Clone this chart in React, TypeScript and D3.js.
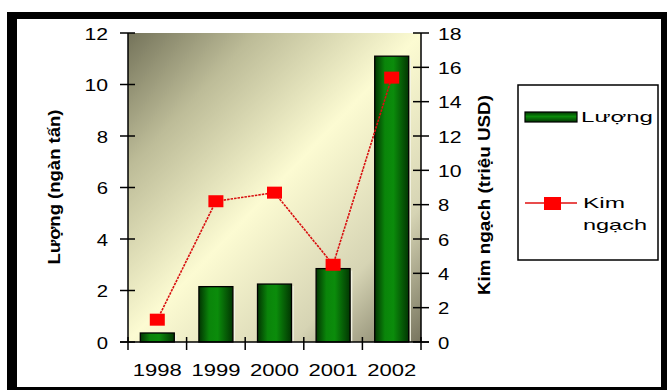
import React from "react";
import * as d3 from "d3";

// Export volume (thousand tonnes) and value (million USD) by year
const years = ["1998", "1999", "2000", "2001", "2002"];
const luong = [0.35, 2.15, 2.25, 2.85, 11.1];
const kimNgach = [1.3, 8.2, 8.7, 4.5, 15.4];
const leftTicks = [0, 2, 4, 6, 8, 10, 12];
const rightTicks = [0, 2, 4, 6, 8, 10, 12, 14, 16, 18];

const W = 667;
const H = 390;
const plot = { left: 128, right: 421, top: 33, bottom: 342 };
const FONT = "'Liberation Sans', Arial, sans-serif";

export default function App() {
  const x = d3
    .scaleBand<string>()
    .domain(years)
    .range([plot.left, plot.right])
    .paddingInner(0.42)
    .paddingOuter(0.21);
  const yL = d3.scaleLinear().domain([0, 12]).range([plot.bottom, plot.top]);
  const yR = d3.scaleLinear().domain([0, 18]).range([plot.bottom, plot.top]);

  const cx = (yr: string) => (x(yr) as number) + x.bandwidth() / 2;
  const line = d3
    .line<number>()
    .x((_, i) => cx(years[i]))
    .y((d) => yR(d));

  const step = x.step();
  const boundaries = d3.range(years.length + 1).map((i) => plot.left + i * step);
  const digitW = (s: string) => s.length * 12.3 - 1;

  return (
    <svg
      width={W}
      height={H}
      style={{ position: "absolute", left: 0, top: 0 }}
      fontFamily={FONT}
    >
      <defs>
        <linearGradient id="plotBg" x1="0" y1="0" x2="1" y2="1">
          <stop offset="0" stopColor="#74735a" />
          <stop offset="0.22" stopColor="#bdbc98" />
          <stop offset="0.5" stopColor="#fcfbd2" />
          <stop offset="0.78" stopColor="#d6d4b4" />
          <stop offset="1" stopColor="#77745e" />
        </linearGradient>
        <linearGradient id="barFill" x1="0" y1="0" x2="1" y2="0">
          <stop offset="0" stopColor="#023402" />
          <stop offset="0.3" stopColor="#0a850a" />
          <stop offset="0.55" stopColor="#0b8c0b" />
          <stop offset="1" stopColor="#023602" />
        </linearGradient>
        <linearGradient id="legBar" x1="0" y1="0" x2="0" y2="1">
          <stop offset="0" stopColor="#023402" />
          <stop offset="0.45" stopColor="#0b8c0b" />
          <stop offset="1" stopColor="#023402" />
        </linearGradient>
      </defs>

      {/* frame */}
      <rect x={7} y={12} width={660} height={378} fill="#000" />
      <rect x={17} y={19} width={644} height={368} fill="#fff" />

      {/* plot area */}
      <rect
        x={plot.left}
        y={plot.top}
        width={plot.right - plot.left}
        height={plot.bottom - plot.top}
        fill="url(#plotBg)"
      />

      {/* bars */}
      {luong.map((v, i) => {
        const bx = x(years[i]) as number;
        const by = yL(v);
        const bh = plot.bottom - by;
        return (
          <g key={years[i]}>
            <line
              x1={bx + x.bandwidth() + 1.6}
              x2={bx + x.bandwidth() + 1.6}
              y1={by + 2}
              y2={plot.bottom}
              stroke="#f4f4e6"
              strokeWidth={1.2}
            />
            <rect
              x={bx}
              y={by}
              width={x.bandwidth()}
              height={bh}
              fill="url(#barFill)"
              stroke="#000"
              strokeWidth={1.3}
            />
          </g>
        );
      })}

      {/* line series */}
      <path
        d={line(kimNgach) as string}
        fill="none"
        stroke="#d81010"
        strokeWidth={1.6}
        strokeDasharray="2.5 1"
      />
      {kimNgach.map((v, i) => (
        <rect
          key={years[i]}
          x={cx(years[i]) - 7.5}
          y={yR(v) - 6}
          width={15}
          height={12}
          fill="#ff0000"
        />
      ))}

      {/* axes */}
      <g stroke="#000" strokeWidth={1.5}>
        <line x1={plot.left} x2={plot.left} y1={plot.top} y2={plot.bottom} />
        <line x1={plot.right} x2={plot.right} y1={plot.top} y2={plot.bottom} />
        <line x1={plot.left - 8} x2={plot.right + 8} y1={plot.bottom} y2={plot.bottom} />
        {leftTicks.map((t) => (
          <line key={"l" + t} x1={plot.left - 8} x2={plot.left + 7} y1={yL(t)} y2={yL(t)} />
        ))}
        {rightTicks.map((t) => (
          <line key={"r" + t} x1={plot.right - 8} x2={plot.right + 8} y1={yR(t)} y2={yR(t)} />
        ))}
        {boundaries.map((bx, i) => (
          <line key={"x" + i} x1={bx} x2={bx} y1={plot.bottom - 5} y2={plot.bottom + 8} />
        ))}
      </g>

      {/* tick labels */}
      <g fontSize={17} fill="#000">
        {leftTicks.map((t) => (
          <text
            key={"lt" + t}
            x={108}
            y={yL(t) + 6.5}
            textAnchor="end"
            textLength={digitW(String(t))}
            lengthAdjust="spacingAndGlyphs"
          >
            {t}
          </text>
        ))}
        {rightTicks.map((t) => (
          <text
            key={"rt" + t}
            x={438}
            y={yR(t) + 6.5}
            textLength={digitW(String(t))}
            lengthAdjust="spacingAndGlyphs"
          >
            {t}
          </text>
        ))}
        {years.map((yr) => (
          <text
            key={"xt" + yr}
            x={cx(yr) - 24.5}
            y={376}
            textLength={49}
            lengthAdjust="spacingAndGlyphs"
          >
            {yr}
          </text>
        ))}
      </g>

      {/* axis titles */}
      <text
        transform="translate(60,187) rotate(-90)"
        textAnchor="middle"
        fontSize={16}
        fontWeight="bold"
        textLength={155}
        lengthAdjust="spacingAndGlyphs"
      >
        Lượng (ngàn tấn)
      </text>
      <text
        transform="translate(490,195) rotate(-90)"
        textAnchor="middle"
        fontSize={16}
        fontWeight="bold"
        textLength={200}
        lengthAdjust="spacingAndGlyphs"
      >
        Kim ngạch (triệu USD)
      </text>

      {/* legend */}
      <rect x={518} y={85} width={140} height={175} fill="#fff" stroke="#000" strokeWidth={1.5} />
      <rect x={525} y={112} width={52} height={10} fill="url(#legBar)" stroke="#000" strokeWidth={1.2} />
      <text x={581} y={122} fontSize={15} textLength={72} lengthAdjust="spacingAndGlyphs">
        Lượng
      </text>
      <line x1={525} x2={577} y1={203} y2={203} stroke="#e01010" strokeWidth={1.5} />
      <rect x={544} y={197} width={17} height={13} fill="#ff0000" />
      <text x={583} y={208} fontSize={15} textLength={42} lengthAdjust="spacingAndGlyphs">
        Kim
      </text>
      <text x={583} y={230} fontSize={15} textLength={64} lengthAdjust="spacingAndGlyphs">
        ngạch
      </text>
    </svg>
  );
}
